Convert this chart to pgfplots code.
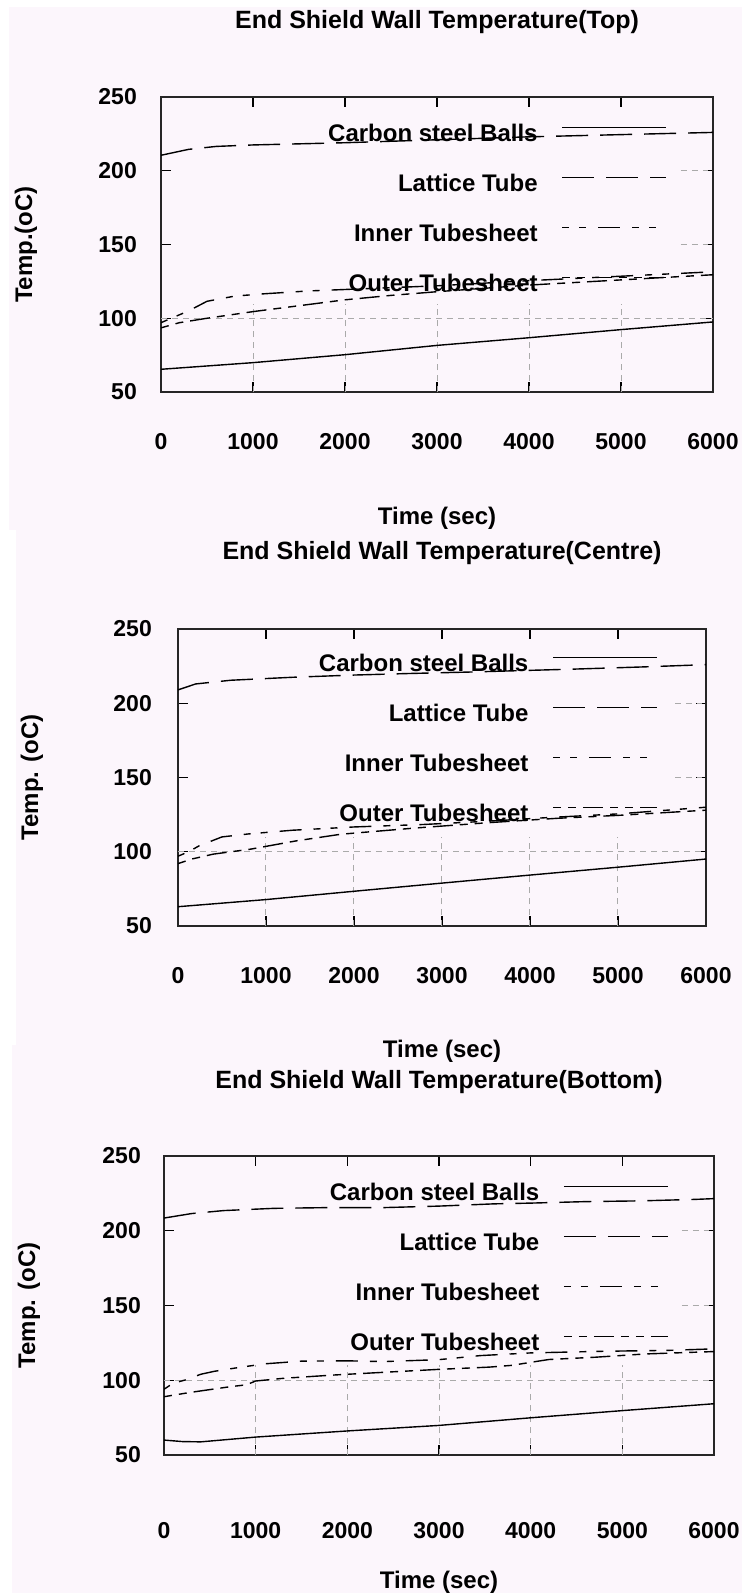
\documentclass[border=0pt]{standalone}
\usepackage{pgfplots}
\pgfplotsset{compat=1.18}
\usepackage{fontspec}
\setmainfont{Liberation Sans}
\definecolor{bg}{RGB}{252,246,252}
\definecolor{gridc}{RGB}{170,170,170}

\tikzset{gr/.style={gridc, line width=1pt, dash pattern=on 6pt off 5pt}}

\pgfplotsset{
  esw/.style={
    scale only axis,
    xmin=0,xmax=6000,ymin=50,ymax=250,
    xtick={0,1000,2000,3000,4000,5000,6000},
    ytick={50,100,150,200,250},
    tick align=inside, major tick length=10pt,
    axis line style={line width=1.2pt, black!85},
    every tick/.style={black, line width=1.2pt},
    /pgf/number format/assume math mode=true,
    /pgf/number format/1000 sep={},
    tick label style={font=\fontsize{23}{23}\selectfont\bfseries, inner sep=0pt},
    x tick label style={anchor=center},
    y tick label style={anchor=east},
    every axis x label/.style={at={(axis description cs:0.5,0)}, anchor=center, font=\fontsize{24}{24}\selectfont\bfseries},
    every axis y label/.style={at={(axis description cs:0,0.5)}, anchor=center, rotate=90, font=\fontsize{24}{24}\selectfont\bfseries},
    every axis title/.style={at={(axis description cs:0.5,1)}, anchor=center, font=\fontsize{25}{25}\selectfont\bfseries},
    xlabel={Time (sec)},
    legend plot pos=right,
    legend cell align=right,
    legend style={draw=none, fill=none, inner sep=0pt, row sep=30pt, column sep=24pt,
      anchor=north east, font=\fontsize{24}{24}\selectfont\bfseries,
      nodes={inner sep=0pt, text height=16pt, text depth=4pt}},
    legend image code/.code={\draw[##1] (0pt,8pt) -- (104pt,8pt);},
    clip=true,
  },
  cs/.style={black, line width=1.4pt},
  lt/.style={black, line width=1.4pt, dash pattern=on 32pt off 12pt},
  it/.style={black, line width=1.4pt, dash pattern=on 7pt off 10pt on 7pt off 12pt on 22pt off 12pt},
  ot/.style={black, line width=1.4pt, dash pattern=on 8pt off 7pt on 8pt off 7pt on 20pt off 7pt},
}

\newcommand{\gridbits}{%
  \draw[gr] (0,100) -- (6000,100);
  \draw[gr] (1000,50) -- (1000,110);
  \draw[gr] (2000,50) -- (2000,110);
  \draw[gr] (3000,50) -- (3000,110);
  \draw[gr] (4000,50) -- (4000,110);
  \draw[gr] (5000,50) -- (5000,110);
  \draw[gr] (5650,150) -- (5950,150);
  \draw[gr] (5650,200) -- (5950,200);
}

\begin{document}
\begin{tikzpicture}
\fill[white] (0pt,0pt) rectangle (742pt,-1593pt);
\fill[bg] (9pt,-7pt) rectangle (742pt,-530pt);
\fill[bg] (16pt,-530pt) rectangle (742pt,-1045pt);
\fill[bg] (12pt,-1045pt) rectangle (742pt,-1593pt);

% ---------------- Top ----------------
\begin{axis}[esw, at={(161pt,-392pt)}, anchor=south west, width=552pt, height=295pt,
  title={End Shield Wall Temperature(Top)}, title style={yshift=75pt},
  ylabel={Temp.(oC)}, ylabel style={xshift=0pt, yshift=135pt},
  xlabel style={yshift=-126pt},
  x tick label style={yshift=-50pt}, y tick label style={xshift=-24pt},
  legend style={at={(0.917,0.905)}}]
\gridbits
\addplot[cs] coordinates {(0,65.4) (1000,69.9) (2000,75.3) (3000,81.6) (4000,86.8) (5000,92.3) (6000,97.5)};
\addlegendentry{Carbon steel Balls}
\addplot[lt] coordinates {(0,210.5) (150,212.5) (300,214.5) (600,216.5) (1000,217.5) (2000,219) (3000,221) (4000,223) (5000,224.5) (6000,226)};
\addlegendentry{Lattice Tube}
\addplot[it] coordinates {(0,97) (150,101) (300,105) (500,111.5) (800,115) (1100,116.5) (1600,118.5) (2200,120) (3000,122) (4000,125.5) (5000,128.5) (6000,131.5)};
\addlegendentry{Inner Tubesheet}
\addplot[ot] coordinates {(0,93.5) (200,97) (500,100) (1000,104.5) (1500,108.5) (2000,112.5) (2500,115.5) (3000,118) (4000,122.5) (5000,126) (6000,129.5)};
\addlegendentry{Outer Tubesheet}
\end{axis}

% ---------------- Centre ----------------
\begin{axis}[esw, at={(178pt,-926pt)}, anchor=south west, width=528pt, height=297pt,
  title={End Shield Wall Temperature(Centre)}, title style={yshift=76pt},
  ylabel={Temp. (oC)}, ylabel style={yshift=146pt},
  xlabel style={yshift=-125pt},
  x tick label style={yshift=-50pt}, y tick label style={xshift=-26pt},
  legend style={at={(0.909,0.912)}}]
\gridbits
\addplot[cs] coordinates {(0,63) (1000,67.8) (2000,73.4) (3000,78.9) (4000,84.3) (5000,89.6) (6000,95.1)};
\addlegendentry{Carbon steel Balls}
\addplot[lt] coordinates {(0,209) (200,213) (600,215.5) (1300,217.5) (2000,219) (2600,220) (3300,221) (4500,223) (5300,224.5) (6000,226)};
\addlegendentry{Lattice Tube}
\addplot[it] coordinates {(0,97) (120,100) (240,104) (500,110) (800,112) (1300,114.5) (2000,116.7) (2800,118.4) (3500,120.5) (4200,123) (5000,125.5) (6000,130)};
\addlegendentry{Inner Tubesheet}
\addplot[ot] coordinates {(0,92) (150,95) (400,98.4) (830,101.8) (1340,107.3) (1850,111.8) (2700,116) (3530,119.6) (4300,122.5) (5000,124.5) (6000,128)};
\addlegendentry{Outer Tubesheet}
\end{axis}

% ---------------- Bottom ----------------
\begin{axis}[esw, at={(164pt,-1455pt)}, anchor=south west, width=550pt, height=299pt,
  title={End Shield Wall Temperature(Bottom)}, title style={yshift=74pt},
  ylabel={Temp. (oC)}, ylabel style={yshift=135pt},
  xlabel style={yshift=-127pt},
  x tick label style={yshift=-76pt}, y tick label style={xshift=-23pt},
  legend style={at={(0.918,0.906)}}]
\gridbits
\addplot[cs] coordinates {(0,60) (200,59) (400,58.8) (1000,62) (2000,66.1) (3000,69.8) (4000,74.9) (5000,79.7) (6000,84.3)};
\addlegendentry{Carbon steel Balls}
\addplot[lt] coordinates {(0,208.5) (300,211.5) (650,213.5) (1200,215) (1800,215.5) (2400,215.5) (3000,216.5) (3600,218) (4000,218.5) (4600,219.5) (5200,220) (5800,221) (6000,221.5)};
\addlegendentry{Lattice Tube}
\addplot[it] coordinates {(0,94) (100,98) (250,100.5) (400,104) (550,106) (800,108.4) (1100,111) (1500,112.8) (2000,113) (2400,112.5) (3000,113.8) (3450,116.5) (4000,118.3) (4800,119.4) (5500,120) (6000,121)};
\addlegendentry{Inner Tubesheet}
\addplot[ot] coordinates {(0,89) (300,92) (700,95.5) (900,97) (1000,99.5) (1300,101.3) (1850,103.5) (2450,105.5) (3000,107.3) (3550,108.8) (3800,110) (4000,112) (4200,113.9) (4700,115.4) (5250,117.6) (6000,119.2)};
\addlegendentry{Outer Tubesheet}
\end{axis}

\pgfresetboundingbox
\path[use as bounding box] (0pt,0pt) rectangle (742pt,-1593pt);
\end{tikzpicture}
\end{document}
